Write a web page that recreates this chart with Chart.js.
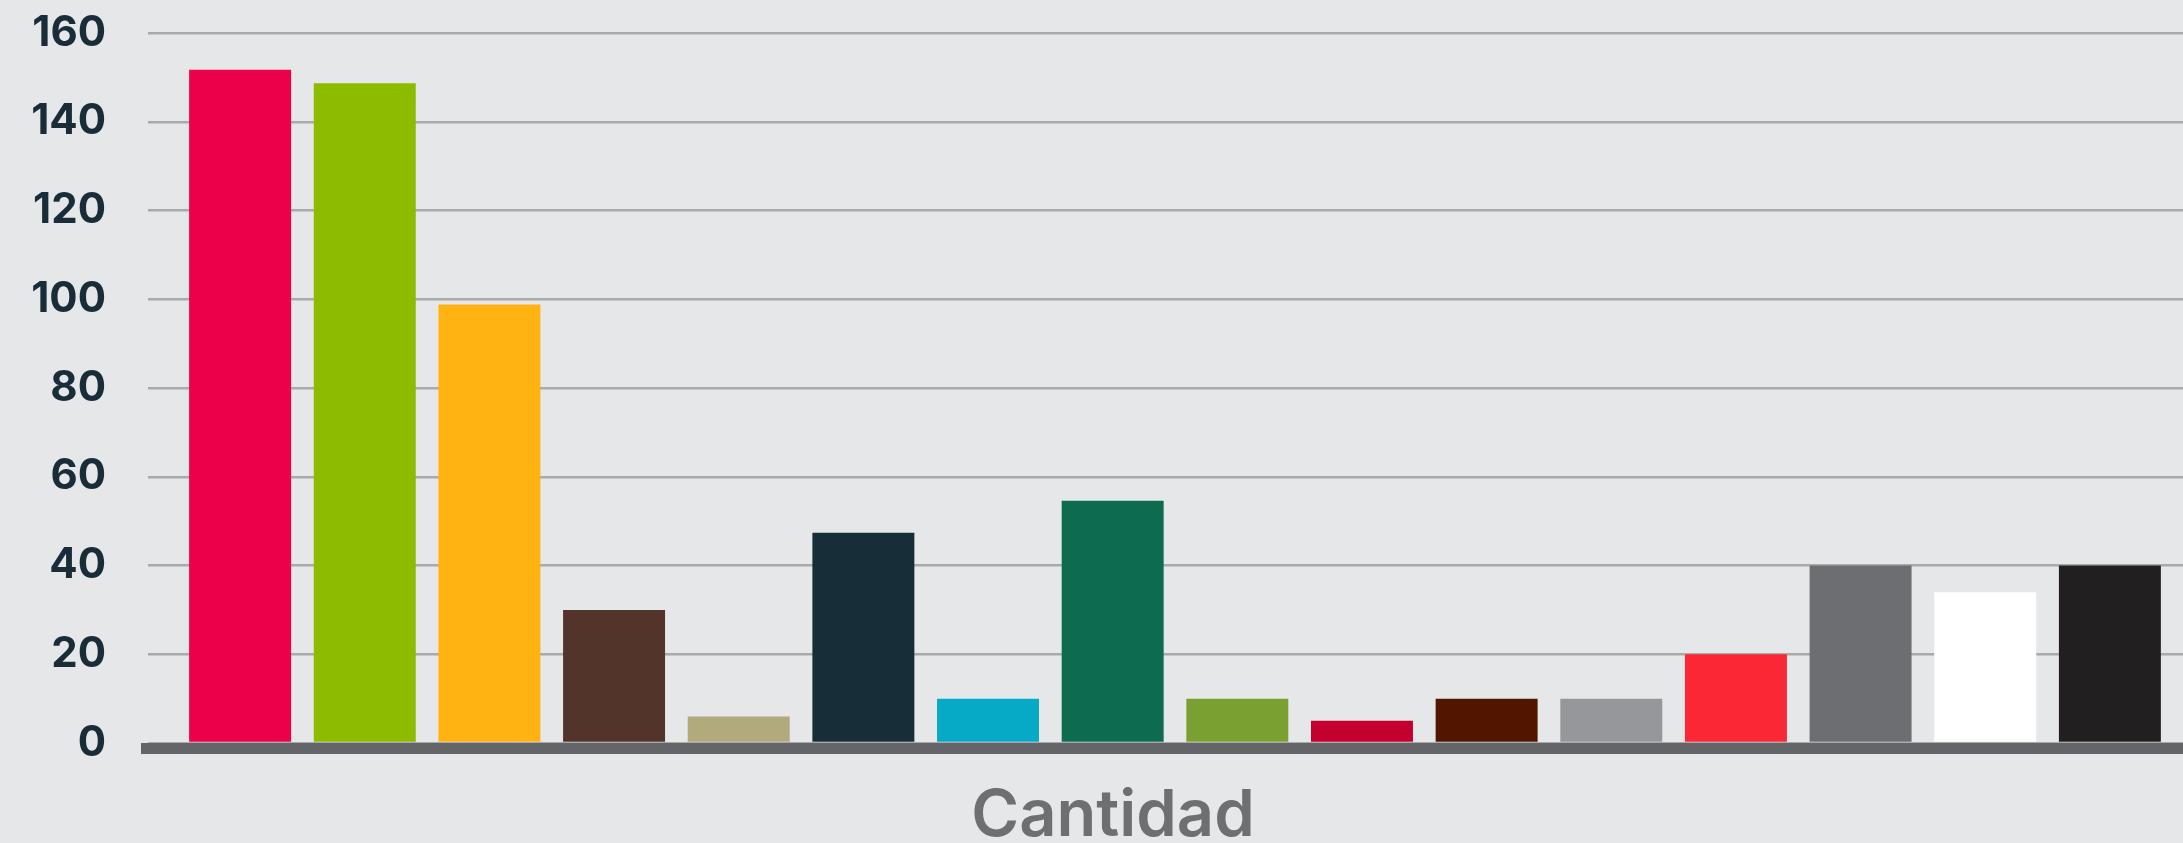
<!DOCTYPE html>
<html>
<head>
<meta charset="utf-8">
<script src="https://cdn.jsdelivr.net/npm/chart.js@4.4.0/dist/chart.umd.min.js"></script>
<style>
  html, body { margin: 0; background: #e6e7e9; overflow: hidden; }
  canvas { display: block; }
</style>
</head>
<body>
<!-- el lienzo es un poco mas ancho que la ventana: la cuadricula sigue hasta el borde -->
<canvas id="myChart" width="2202" height="843"></canvas>
<script>
// categoria del eje x (una sola, con una barra por serie)
const categorias = ['Cantidad'];

// valores de cada barra, de izquierda a derecha
const valores = [151.7, 148.7, 98.8, 30, 6, 47.4, 10, 54.6, 10, 5, 10, 10, 20, 40, 34, 40];

// colores de cada barra
const colores = [
    '#ec004a', '#8dbb00', '#ffb313', '#52342a',
    '#b0aa7c', '#172d37', '#07aac6', '#0d6c50',
    '#7aa031', '#c4002f', '#501600', '#96979a',
    '#fb2735', '#6d6e72', '#ffffff', '#221f20'
];

// marcas del eje y
const ticksY = [0, 20, 40, 60, 80, 100, 120, 140, 160];

drawChart();

function drawChart() {
    const datasets = valores.map((v, i) => ({
        label: 'Serie ' + (i + 1),
        data: [v],
        backgroundColor: colores[i],
        borderWidth: 0,
        categoryPercentage: 0.971,
        barPercentage: 0.818
    }));

    // barra gris gruesa debajo de las columnas
    const lineaBase = {
        id: 'lineaBase',
        afterDatasetsDraw(chart) {
            const ctx = chart.ctx;
            const area = chart.chartArea;
            const y0 = chart.scales.y.getPixelForValue(0);
            ctx.save();
            ctx.fillStyle = '#646569';
            ctx.fillRect(area.left - 7, y0, chart.width - area.left + 7, 11);
            ctx.restore();
        }
    };

    const config = {
        type: 'bar',
        data: { labels: categorias, datasets: datasets },
        options: {
            responsive: false,
            animation: false,
            devicePixelRatio: 1,
            layout: { padding: { top: 33, right: 0, left: 0, bottom: 0 } },
            plugins: {
                legend: { display: false },
                tooltip: { enabled: false }
            },
            scales: {
                x: {
                    grid: { display: false },
                    border: { display: false },
                    ticks: {
                        color: '#6d6f70',
                        padding: 26,
                        labelOffset: -62,
                        font: { family: 'Inter', size: 65, weight: '600' }
                    },
                    afterFit(scale) { scale.height = 100; }
                },
                y: {
                    min: ticksY[0],
                    max: ticksY[ticksY.length - 1],
                    grid: { color: '#a9aaac', lineWidth: 2.5, drawTicks: false },
                    border: { display: false },
                    afterBuildTicks(scale) {
                        scale.ticks = ticksY.map(v => ({ value: v }));
                    },
                    ticks: {
                        color: '#182d38',
                        padding: 42,
                        font: { family: 'Inter', size: 42, weight: '700' }
                    },
                    afterFit(scale) {
                        // ancho fijo del eje y sin margen extra arriba/abajo
                        scale.width = 148;
                        scale.paddingTop = 0;
                        scale.paddingBottom = 0;
                    }
                }
            }
        },
        plugins: [lineaBase]
    };

    new Chart(document.getElementById('myChart'), config);
}
</script>
</body>
</html>
